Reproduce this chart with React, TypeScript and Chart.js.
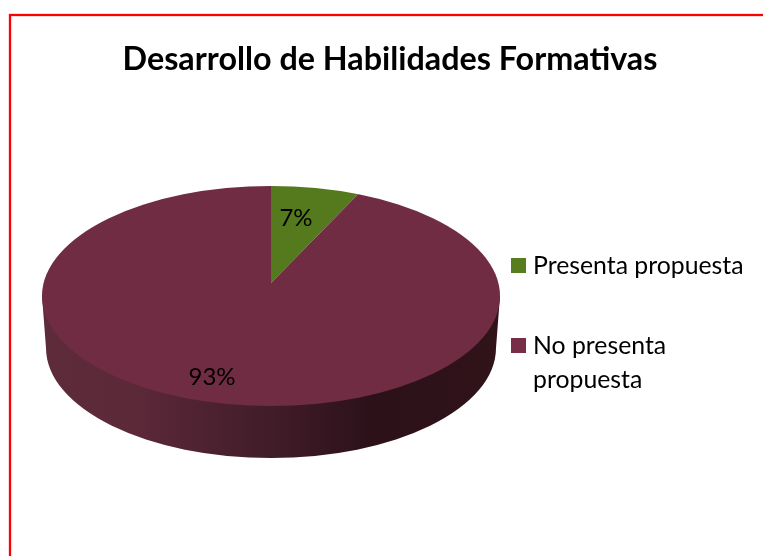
import React, { useEffect, useRef } from "react";
import { Chart, registerables } from "chart.js";

Chart.register(...registerables);

const title = "Desarrollo de Habilidades Formativas";
const categories = ["Presenta propuesta", "No presenta propuesta"];
const legendLines = [["Presenta propuesta"], ["No presenta", "propuesta"]];
const values = [7, 93];
const topColors = ["#557a1e", "#702c42"];
const legendColors = ["#587d1e", "#772f47"];

const FONT = "Lato, sans-serif";
const pie = { cx: 271, apexY: 283, cy: 296, rx: 229, ry: 110, depth: 52, inset: 4, tilt: 0.48, grow: 1.1 };
const labelOffsets = [[25, -65], [-59, 94]];

const pie3d = {
  id: "pie3d",
  beforeDraw(chart: any) {
    const { ctx, width, height } = chart;
    ctx.save();
    ctx.fillStyle = "#ffffff";
    ctx.fillRect(0, 0, width, height);
    const frame = (color: string, lineWidth: number) => {
      ctx.strokeStyle = color;
      ctx.lineWidth = lineWidth;
      ctx.beginPath();
      ctx.moveTo(10, height);
      ctx.lineTo(10, 15);
      ctx.lineTo(width, 15);
      ctx.stroke();
    };
    frame("#ffb4b4", 3);
    frame("#ff0000", 2);
    ctx.restore();
  },
  beforeDatasetsDraw(chart: any) {
    const { ctx } = chart;
    const { cx, cy, rx, ry, depth, inset } = pie;
    const arc = chart.getDatasetMeta(0).data[0];
    ctx.save();
    const g = ctx.createLinearGradient(cx - rx, 0, cx + rx, 0);
    g.addColorStop(0, "#5e2b3b");
    g.addColorStop(0.2, "#5c2939");
    g.addColorStop(0.5, "#411c29");
    g.addColorStop(0.72, "#2c1119");
    g.addColorStop(1, "#311319");
    ctx.fillStyle = g;
    ctx.beginPath();
    ctx.moveTo(cx - rx, cy);
    ctx.lineTo(cx - rx + inset, cy + depth);
    ctx.ellipse(cx, cy + depth, rx - inset, ry, 0, Math.PI, 0, true);
    ctx.lineTo(cx + rx, cy);
    ctx.closePath();
    ctx.fill();
    ctx.restore();

    ctx.save();
    ctx.beginPath();
    ctx.ellipse(cx, cy, rx, ry, 0, 0, Math.PI * 2);
    ctx.clip();
    ctx.translate(cx, pie.apexY);
    ctx.scale(pie.grow, pie.grow * pie.tilt);
    ctx.translate(-arc.x, -arc.y);
  },
  afterDatasetsDraw(chart: any) {
    const { ctx } = chart;
    ctx.restore();
    const total = values.reduce((a, b) => a + b, 0);
    ctx.save();
    ctx.fillStyle = "#000000";
    ctx.font = `24px ${FONT}`;
    ctx.textAlign = "center";
    ctx.textBaseline = "middle";
    values.forEach((v, i) => {
      ctx.fillText(`${Math.round((v / total) * 100)}%`, pie.cx + labelOffsets[i][0], pie.apexY + labelOffsets[i][1]);
    });
    ctx.restore();
  },
  afterDraw(chart: any) {
    const { ctx } = chart;
    ctx.save();
    ctx.font = `24.8px ${FONT}`;
    ctx.textBaseline = "middle";
    const rows = [266, 346];
    legendLines.forEach((lines, i) => {
      ctx.fillStyle = legendColors[i];
      ctx.fillRect(511, rows[i] - 8, 15, 15);
      ctx.fillStyle = "#000000";
      lines.forEach((t, j) => ctx.fillText(t, 533, rows[i] + j * 34));
    });
    ctx.restore();
  },
};

export default function App() {
  const ref = useRef<HTMLCanvasElement>(null);
  useEffect(() => {
    document.body.style.margin = "0";
    const chart = new Chart(ref.current!, {
      type: "pie",
      data: {
        labels: categories,
        datasets: [{ data: values, backgroundColor: topColors, borderWidth: 0 }],
      },
      options: {
        responsive: false,
        animation: false,
        layout: { padding: { left: 17, right: 0, top: 0, bottom: 0 } },
        plugins: {
          legend: { display: false },
          tooltip: { enabled: false },
          title: {
            display: true,
            text: title,
            color: "#000000",
            font: { family: FONT, size: 32.3, weight: "bold" },
            padding: { top: 40, bottom: 0 },
          },
        },
      },
      plugins: [pie3d],
    });
    return () => chart.destroy();
  }, []);
  return <canvas ref={ref} width={763} height={556} style={{ display: "block" }} />;
}
